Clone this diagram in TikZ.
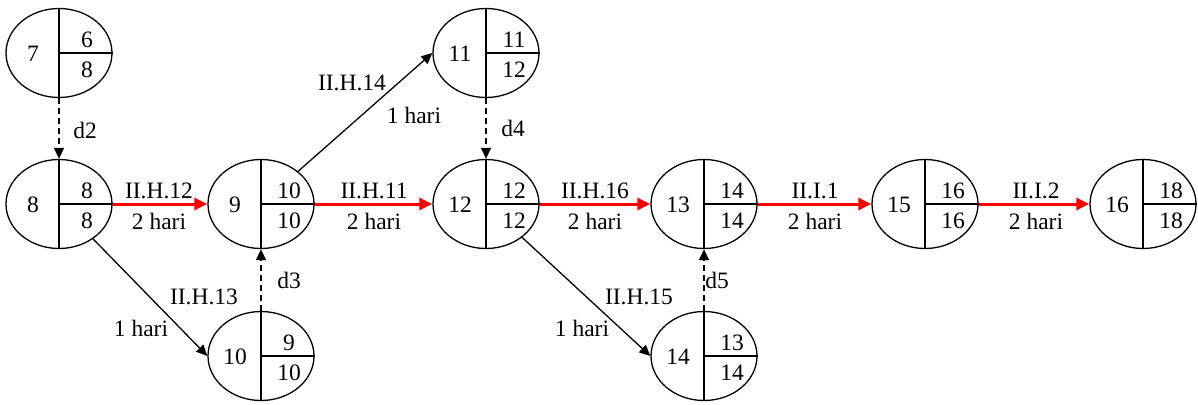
\documentclass[tikz,border=0pt]{standalone}
\usepackage{fontspec}
\setmainfont{Liberation Serif}
\usetikzlibrary{shapes.geometric,arrows.meta,calc}
\tikzset{
  evt/.style={ellipse, draw, line width=1.3pt, minimum width=106pt, minimum height=89pt, inner sep=0pt},
  divider/.style={line width=2pt},
  num/.style={inner sep=0pt, font=\fontsize{23.5}{27}\selectfont},
  lab/.style={inner sep=0pt, font=\fontsize{23.5}{27}\selectfont},
  crit/.style={draw=red, line width=3pt, -{Triangle[length=13pt,width=12pt]}},
  act/.style={line width=1.3pt, -{Triangle[length=11pt,width=10pt]}},
  dum/.style={line width=1.3pt, dash pattern=on 6pt off 4pt, -{Triangle[length=11pt,width=10pt]}},
}
\newcommand\evnode[5]{%
  \node[evt] (#1) at (#2) {};
  \draw[divider] (#1.north) -- (#1.south) (#1.center) -- (#1.east);
  \node[num] (#1-a) at ($(#1.center)+(-26,1)$) {#3};
  \node[num] (#1-b) at ($(#1.center)+(28,-13)$) {#4};
  \node[num] (#1-c) at ($(#1.center)+(28,17)$) {#5};
}
\begin{document}
\begin{tikzpicture}[x=1pt,y=-1pt]
\useasboundingbox (0,0) rectangle (1198,404);
\evnode{n7}{59,53}{7}{6}{8}
\evnode{n8}{59,204}{8}{8}{8}
\evnode{n9}{261,204}{9}{10}{10}
\evnode{n10}{261,356}{10}{9}{10}
\evnode{n11}{486,53}{11}{11}{12}
\evnode{n12}{486,204}{12}{12}{12}
\evnode{n13}{704,204}{13}{14}{14}
\evnode{n14}{704,356}{14}{13}{14}
\evnode{n15}{925,204}{15}{16}{16}
\evnode{n16}{1143,204}{16}{18}{18}

% critical path
\draw[crit] (n8.east) -- (n9.west);
\draw[crit] (n9.east) -- (n12.west);
\draw[crit] (n12.east) -- (n13.west);
\draw[crit] (n13.east) -- (n15.west);
\draw[crit] (n15.east) -- (n16.west);
% other activities
\draw[act] (n9) -- (n11.west);
\draw[act] (n8) -- (n10.west);
\draw[act] (n12) -- (n14.west);
% dummies
\draw[dum] (n7.south) -- (n8.north);
\draw[dum] (n10.north) -- (n9.south);
\draw[dum] (n11.south) -- (n12.north);
\draw[dum] (n14.north) -- (n13.south);

% labels
\node[lab] (l1a) at (159,191) {II.H.12};
\node[lab] (l1b) at (159,221) {2 hari};
\node[lab] (l2a) at (374,191) {II.H.11};
\node[lab] (l2b) at (374,221) {2 hari};
\node[lab] (l3a) at (595,191) {II.H.16};
\node[lab] (l3b) at (595,221) {2 hari};
\node[lab] (l4a) at (815,191) {II.I.1};
\node[lab] (l4b) at (815,221) {2 hari};
\node[lab] (l5a) at (1036,191) {II.I.2};
\node[lab] (l5b) at (1036,221) {2 hari};
\node[lab] (l6a) at (352,83) {II.H.14};
\node[lab] (l6b) at (414,115) {1 hari};
\node[lab] (l7a) at (204,297) {II.H.13};
\node[lab] (l7b) at (141,328) {1 hari};
\node[lab] (l8a) at (639,297) {II.H.15};
\node[lab] (l8b) at (582,328) {1 hari};
\node[lab] (d2) at (85,130) {d2};
\node[lab] (d3) at (289,280) {d3};
\node[lab] (d4) at (513,128) {d4};
\node[lab] (d5) at (717,280) {d5};
\end{tikzpicture}
\end{document}
